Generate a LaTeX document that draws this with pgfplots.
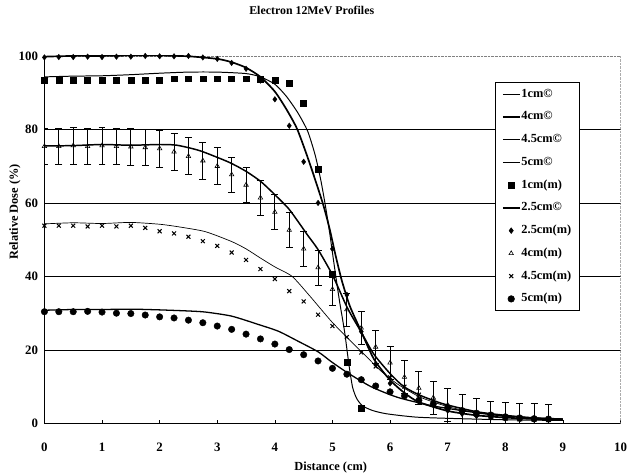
\documentclass[border=0pt]{standalone}
\usepackage{fontspec}
\setmainfont{Liberation Serif}
\usepackage{pgfplots}
\pgfplotsset{compat=1.18}
\newcommand{\F}{\bfseries\fontsize{12.5}{14}\selectfont}
\newcommand{\T}{\bfseries\fontsize{13}{15}\selectfont}
\begin{document}
\begin{tikzpicture}
\begin{axis}[
  scale only axis, width=580bp, height=370bp,
  xmin=0, xmax=10, ymin=0, ymax=100,
  xtick={0,...,10}, ytick={0,20,...,100},
  axis lines*=left,
  axis line style={-, black, line width=0.8pt},
  tick align=inside, major tick length=3pt,
  tick style={black, line width=0.6pt},
  ticklabel style={font=\T},
  /pgf/number format/assume math mode=true,
  xticklabel style={yshift=-16pt},
  yticklabel style={xshift=-3pt},
  extra y ticks={20,40,60,80}, extra y tick labels={},
  extra y tick style={grid=major, major tick length=0pt},
  major grid style={black, line width=0.6pt},
  title={Electron 12MeV Profiles},
  title style={font=\bfseries\fontsize{12}{14}\selectfont, at={(0.464,1.109)}, anchor=center},
  xlabel={Distance (cm)},
  xlabel style={font=\F, at={(0.497,-0.12)}, anchor=center},
  ylabel={Relative Dose (\%)},
  ylabel style={font=\F, at={(-0.0512,0.576)}, anchor=center},
  legend style={at={(0.7816,0.928)}, anchor=north west, draw=black, line width=0.6pt,
    font=\F, inner xsep=7pt, inner ysep=5pt, row sep=10pt,
    nodes={inner sep=1pt, text height=8.5pt, text depth=2.5pt}},
  legend cell align=left,
]
\draw[densely dotted, gray] (rel axis cs:0,1) -- (rel axis cs:1,1);
\draw[densely dotted, gray] (rel axis cs:1,0) -- (rel axis cs:1,1);
% 1cm (c)
\addplot[black, line width=1pt, smooth, tension=0.4] coordinates {(0,94.3) (0.5,94.5) (1,94.6) (1.5,94.9) (2,95.3) (2.5,95.6) (3,95.6) (3.5,95.2) (3.75,94.3) (4,92.3) (4.2,89) (4.4,84.5) (4.57,79.5) (4.7,73) (4.8,66) (4.88,59) (4.95,52) (5.04,42) (5.12,33.5) (5.21,25) (5.29,15.5) (5.35,9.8) (5.42,6.8) (5.52,4.8) (5.7,3.5) (5.95,2.6) (6.47,1.7) (7.2,1.3) (8,1) (9,0.8)};
\addlegendentry{1cm©}
% 4cm (c)
\addplot[black, line width=1.5pt, smooth, tension=0.4] coordinates {(0,75.5) (0.5,75.6) (1,75.9) (1.5,75.7) (2,75.9) (2.3,75.7) (2.7,74.2) (3.2,71.1) (3.5,68.6) (3.75,65.9) (3.95,63) (4.23,58.6) (4.4,55) (4.57,51.2) (4.75,47.3) (5,40.4) (5.26,31.4) (5.49,25.1) (5.72,18.8) (6.01,13.4) (6.24,10) (6.53,7.6) (6.93,5.3) (7.5,3.2) (8,2.2) (8.5,1.5) (9,1.2)};
\addlegendentry{4cm©}
% 4.5cm (c)
\addplot[black, line width=0.7pt, smooth, tension=0.4] coordinates {(0,54.3) (0.5,54.6) (1,54.4) (1.5,54.7) (2,54.2) (2.33,53.5) (2.79,52.2) (3.25,49.5) (3.5,47.5) (3.75,45) (4,42.6) (4.3,40) (4.6,34.8) (4.98,27.8) (5.26,23.3) (5.55,18.8) (5.84,14.3) (6.13,10.7) (6.53,7.1) (7.04,4.4) (7.5,3) (8,2) (8.5,1.5) (9,1.1)};
\addlegendentry{4.5cm©}
% 5cm (c)
\addplot[black, line width=1.3pt, smooth, tension=0.4] coordinates {(0,30.8) (0.5,31) (1,31) (1.5,31.1) (2,30.9) (2.5,30.6) (2.8,30.3) (3.25,29.2) (3.7,27) (4.06,25.1) (4.4,22.4) (4.75,19.5) (4.98,16.8) (5.26,13.8) (5.67,10) (6.13,7.1) (6.7,4.9) (7.16,3.7) (7.6,2.7) (8,2) (8.5,1.5) (9,1.2)};
\addlegendentry{5cm©}
% 1cm (m)
\addplot[only marks, mark=square*, mark size=3pt, black] coordinates {(0,93.5) (0.25,93.4) (0.5,93.4) (0.75,93.4) (1,93.4) (1.25,93.4) (1.5,93.4) (1.75,93.4) (2,93.5) (2.25,93.8) (2.5,93.8) (2.75,93.8) (3,93.8) (3.25,93.8) (3.5,93.8) (3.75,93.6) (4,93.4) (4.25,92.7) (4.5,87.2) (4.75,69.3) (5,40.5) (5.25,16.6) (5.5,4.1)};
\addlegendentry{1cm(m)}
% 2.5cm (c)
\addplot[black, line width=1.7pt, smooth, tension=0.4] coordinates {(0,99.8) (0.5,100) (1,100) (1.5,100.1) (2,100.1) (2.5,99.9) (3,99.2) (3.25,98.3) (3.5,96.8) (3.75,94.3) (4,90.3) (4.2,85.5) (4.39,80) (4.6,71) (4.83,60) (4.95,53) (5.05,46) (5.16,39) (5.3,32) (5.47,26) (5.72,17.5) (6,11.8) (6.25,8.3) (6.5,5.8) (7,3.4) (7.5,2.2) (8,1.6) (8.5,1.2) (9,1)};
\addlegendentry{2.5cm©}
% 2.5cm (m)
\addplot[only marks, mark=diamond*, mark size=2.8pt, black] coordinates {(0,99.6) (0.25,99.7) (0.5,99.7) (0.75,99.8) (1,99.7) (1.25,99.8) (1.5,99.8) (1.75,100) (2,99.9) (2.25,99.9) (2.5,100) (2.75,99.6) (3,99.2) (3.25,98.1) (3.5,96.5) (3.75,93.3) (4,88.2) (4.25,81) (4.5,71.2) (4.75,60) (5,47.5) (5.25,35) (5.5,25) (5.75,16.2) (6,10.9) (6.25,7.7) (6.5,5.9) (6.75,5) (7,3.5) (7.25,2.6) (7.5,2) (7.75,1.6) (8,1.3) (8.25,1.1) (8.5,1) (8.75,1)};
\addlegendentry{2.5cm(m)}
% 4cm (m)
\addplot[only marks, mark=triangle, mark size=2.6pt, black, line width=0.6pt,
  error bars/.cd, y dir=both, y explicit,
  error bar style={line width=0.8pt},
  error mark options={rotate=90, mark size=3.5pt, line width=0.8pt}] coordinates {
(0,75.4) +- (0,5) (0.25,75.4) +- (0,5) (0.5,75.6) +- (0,5) (0.75,75.4) +- (0,5) (1,75.6) +- (0,5) (1.25,75.4) +- (0,5) (1.5,75.3) +- (0,5) (1.75,75.1) +- (0,5) (2,74.8) +- (0,5) (2.25,73.9) +- (0,5) (2.5,72.7) +- (0,5) (2.75,71.5) +- (0,5) (3,70) +- (0,5) (3.25,67.7) +- (0,4.8) (3.5,64.9) +- (0,4.8) (3.75,61.4) +- (0,4.8) (4,57.5) +- (0,4.8) (4.25,52.6) +- (0,4.8) (4.5,47.5) +- (0,4.8) (4.75,42.4) +- (0,4.8) (5,36.5) +- (0,4.5) (5.25,31) +- (0,4.5) (5.5,26) +- (0,4.5) (5.75,20.8) +- (0,4.5) (6,16.5) +- (0,4.5) (6.25,12.6) +- (0,4.5) (6.5,9.6) +- (0,4.5) (6.75,7) +- (0,4.5) (7,5) +- (0,4.5) (7.25,3.4) +- (0,4.5) (7.5,2.3) +- (0,4.5) (7.75,1.6) +- (0,4.5) (8,1.2) +- (0,4.5) (8.25,1) +- (0,4.5) (8.5,0.9) +- (0,4.5) (8.75,0.8) +- (0,4.5)};
\addlegendentry{4cm(m)}
% 4.5cm (m)
\addplot[only marks, mark=x, mark size=2.8pt, black, line width=1pt] coordinates {(0,53.8) (0.25,53.8) (0.5,53.8) (0.75,53.6) (1,53.8) (1.25,53.6) (1.5,53.8) (1.75,53.2) (2,52.3) (2.25,51.7) (2.5,50.8) (2.75,49.6) (3,48.3) (3.25,46.5) (3.5,44.5) (3.75,42) (4,39.3) (4.25,36) (4.5,33.2) (4.75,29.6) (5,26.5) (5.25,23.5) (5.5,19.3) (5.75,15.5) (6,12.5) (6.25,10) (6.5,7.8) (6.75,6) (7,4.5) (7.25,3.4) (7.5,2.6) (7.75,2) (8,1.6) (8.25,1.3) (8.5,1.1) (8.75,1)};
\addlegendentry{4.5cm(m)}
% 5cm (m)
\addplot[only marks, mark=*, mark size=3.3pt, black] coordinates {(0,30.4) (0.25,30.4) (0.5,30.4) (0.75,30.5) (1,30.3) (1.25,30) (1.5,29.9) (1.75,29.5) (2,29) (2.25,28.7) (2.5,28.1) (2.75,27.4) (3,26.5) (3.25,25.6) (3.5,24.3) (3.75,23) (4,21.6) (4.25,20.1) (4.5,18.7) (4.75,17) (5,15) (5.25,13.4) (5.5,11.9) (5.75,10.2) (6,8.6) (6.25,7.5) (6.5,6.3) (6.75,5.3) (7,4.3) (7.25,3.5) (7.5,2.8) (7.75,2.3) (8,1.8) (8.25,1.5) (8.5,1.3) (8.75,1.2)};
\addlegendentry{5cm(m)}
\coordinate (bb1) at (rel axis cs:-0.0771,-0.1397);
\coordinate (bb2) at (rel axis cs:1.013,1.1522);
\end{axis}
\pgfresetboundingbox
\path (bb1) rectangle (bb2);
\end{tikzpicture}
\end{document}
